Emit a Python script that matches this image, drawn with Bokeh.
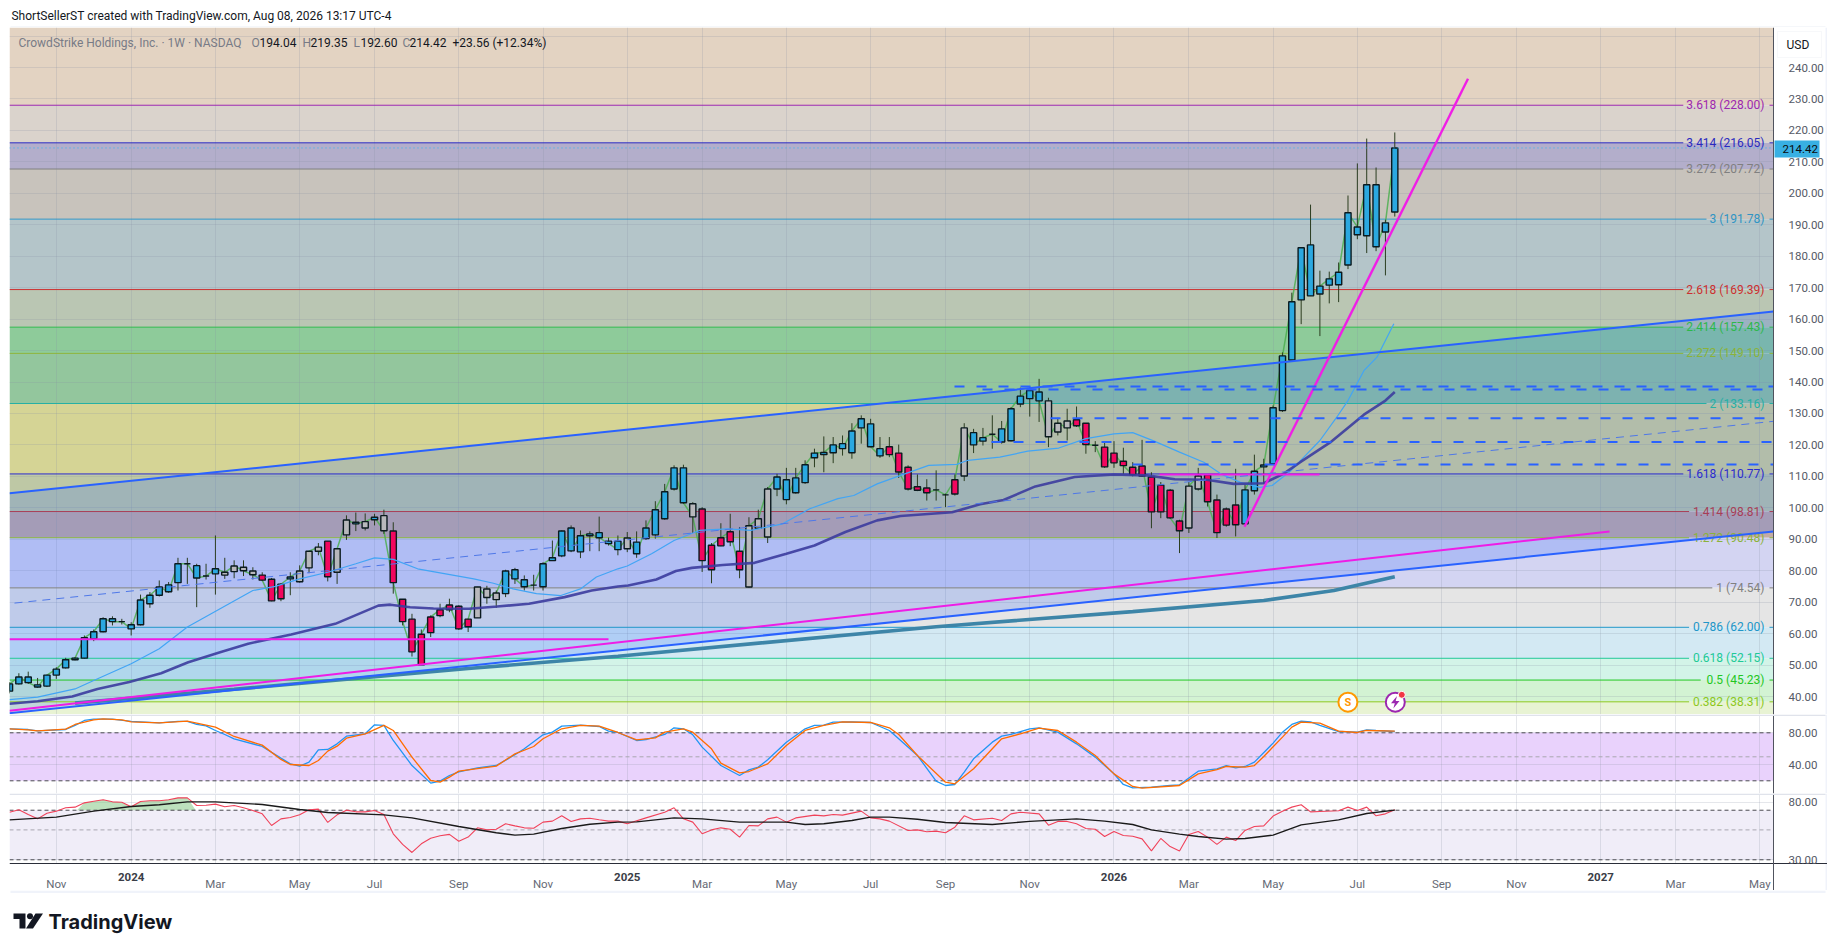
import math
import numpy as np
from bokeh.plotting import figure
from bokeh.layouts import column
from bokeh.models import Range1d, FixedTicker, PrintfTickFormatter, Label, BoxAnnotation, ColumnDataSource
from bokeh.core.properties import value
from bokeh.embed import file_html
from bokeh.resources import INLINE

# ---------- weekly candles, k = 0 ... 148 (last bar = week of Aug 3 2026) ----------
opens = [41.7,44.0,46.2,43.7,43.3,46.8,49.1,51.7,52.2,58.4,60.6,64.7,63.8,62.8,62.8,69.5,72.2,75.5,76.2,82.2,
         81.6,78.3,79.0,78.6,79.7,81.1,79.9,78.6,77.3,71.1,77.4,76.5,80.9,86.2,89.4,79.5,91.4,95.4,93.6,96.2,
         97.5,92.6,70.9,64.6,50.1,60.3,65.7,67.6,68.7,62.2,65.0,74.2,70.8,72.7,80.3,77.1,75.4,74.9,83.2,84.7,
         93.6,86.0,91.1,92.1,89.4,89.4,87.0,89.1,90.2,91.4,96.5,106.0,112.7,101.3,99.6,80.3,87.9,89.2,86.2,74.8,
         93.5,90.7,106.0,108.9,104.8,108.0,115.9,116.9,117.5,120.4,117.5,125.4,126.7,118.8,116.9,117.4,112.9,105.6,106.3,105.7,
         104.1,104.4,110.1,123.9,121.2,123.4,125.1,121.3,133.0,134.7,136.8,134.0,124.1,127.6,126.1,126.9,119.9,119.3,114.3,114.8,
         112.9,110.1,109.8,98.7,105.6,95.8,93.6,106.0,110.5,102.5,94.5,100.9,94.9,105.4,113.0,114.0,130.9,147.0,166.1,183.6,
         168.0,170.8,170.9,177.2,186.8,186.5,202.7,187.7,194.04]
highs = [44.6,47.4,47.9,45.9,46.9,49.3,52.3,52.5,59.4,61.3,65.2,65.5,64.7,63.6,72.4,73.2,76.9,76.4,84.1,84.1,
         82.2,82.2,91.2,84.1,83.3,83.3,81.1,79.5,77.7,76.0,79.5,81.7,86.2,88.8,89.4,87.0,97.6,98.5,98.2,98.1,
         99.4,95.4,70.9,66.3,61.3,65.8,69.5,71.1,69.0,64.6,74.8,75.2,73.7,80.3,80.9,78.5,78.7,82.7,89.6,92.8,
         94.4,92.8,92.5,97.2,90.5,91.2,92.3,92.5,96.0,102.1,107.6,113.5,113.7,101.8,100.2,88.8,95.1,98.1,93.9,97.0,
         99.4,106.6,110.8,112.7,112.7,115.1,118.8,122.7,122.5,123.0,126.9,129.4,128.3,122.5,122.5,120.1,113.5,110.6,109.1,111.9,
         104.5,110.6,126.9,125.1,125.4,129.4,127.6,132.0,138.2,138.6,141.0,135.0,128.6,131.5,132.2,126.9,121.2,120.9,121.2,119.1,
         114.5,121.6,111.3,108.2,106.0,96.2,108.2,112.7,110.5,104.2,100.1,112.4,107.4,116.9,115.6,132.5,149.4,168.4,182.7,196.4,
         175.4,175.1,178.0,199.3,209.5,217.4,208.2,191.6,219.35]
lows = [41.0,43.8,44.0,42.8,43.0,45.6,48.9,51.5,52.0,57.6,60.4,62.6,62.9,59.4,62.6,68.2,71.8,73.0,73.7,75.8,
        68.4,77.2,72.4,77.4,77.6,78.3,77.2,76.7,70.3,70.3,72.2,76.2,79.2,84.9,76.6,75.8,89.8,92.6,92.8,94.4,
        91.7,72.7,62.6,52.7,50.1,58.9,65.2,66.8,61.2,60.5,65.0,69.5,68.2,71.6,75.8,73.7,73.7,73.7,83.2,84.3,
        85.9,84.0,86.2,86.2,88.0,84.9,85.9,84.1,89.8,90.2,96.2,105.5,101.3,92.0,79.6,76.0,87.8,87.8,77.6,74.6,
        93.3,88.8,103.7,101.1,104.5,107.6,112.9,111.3,114.2,116.6,115.6,120.4,119.3,115.9,116.1,109.5,105.5,105.3,102.3,102.3,
        100.2,103.9,108.5,117.4,119.8,118.8,120.4,121.1,132.0,129.0,127.3,119.3,123.0,121.4,125.7,117.2,117.7,112.7,112.7,110.8,
        110.0,109.8,93.5,96.7,96.5,85.6,92.0,105.5,100.4,90.4,94.0,90.9,94.7,104.2,107.6,113.8,130.5,147.0,158.4,167.4,
        154.6,165.0,165.4,175.9,185.4,181.0,181.6,173.9,192.60]
closes = [44.0,46.2,44.4,43.0,46.8,48.7,51.7,52.2,58.7,60.6,64.7,63.8,63.8,61.5,70.7,72.2,74.8,73.3,82.2,82.2,
          77.7,78.3,80.6,79.5,81.5,80.0,78.7,77.0,70.4,75.7,78.0,79.9,86.2,87.5,78.1,87.0,96.1,94.9,95.6,97.0,
          92.7,76.2,63.8,54.2,59.8,65.3,67.6,69.1,61.5,64.6,74.8,71.5,72.9,79.9,77.4,74.9,75.4,82.2,84.1,92.6,
          86.3,91.1,91.7,90.5,88.6,86.7,90.4,85.4,93.6,99.4,105.1,112.7,101.6,97.1,83.2,88.1,90.5,92.4,80.3,94.3,
          96.5,106.0,109.8,102.6,109.5,113.7,117.4,117.6,120.0,118.8,124.4,128.3,119.4,116.5,119.4,111.4,106.0,106.7,104.8,105.7,
          104.1,108.9,125.4,120.0,122.3,123.4,120.9,131.5,135.5,137.3,134.0,122.6,126.9,125.4,128.0,120.1,119.9,113.0,117.4,113.4,
          110.5,113.3,98.7,107.2,96.8,92.7,106.9,110.1,101.9,92.1,99.6,94.6,105.7,111.6,113.6,131.8,148.3,165.5,182.7,167.4,
          170.5,172.8,174.9,193.8,189.3,202.7,183.0,190.6,214.42]
kinds = ("bbbbbbbbbbbbbbbbbbb g bbb gggg rrr b ggg r gg b g b g rrrrrrrrr ggg bbbbbbbbbbbbb g bbbbbb g "
         "rrrrr ggg bbbbbbbbbbbb rrrrrrrr g bbbbbbbb ggg rrrrrrrrrrrr gg rrrr bbbbbbbbbbbbbbbbb").replace(" ", "")
assert len(opens) == len(highs) == len(lows) == len(closes) == len(kinds) == 149, (len(opens), len(highs), len(lows), len(closes), len(kinds))

# ---------- moving averages ----------
fast_k = [0,3,7,9,13,16,19,22.5,26,28.4,31,34,37,39,41,43.6,46.6,49.6,51.7,53.8,56.3,58.9,61,62.7,65,66,68.6,71,73.7,76.7,79.2,82.6,85.5,88.5,90.2,92.7,95.2,98.2,101.2,102.4,105.8,108.8,112.1,115,118,120,122.3,125,127.6,129.4,131.5,133.6,134.9,136.9,140,141.8,143,144.7,146.1,147.9]
fast_v = [39.0,39.8,42.4,45.1,50.4,55.2,62.1,67.9,73.7,75.0,77.4,79.5,82.2,84.1,83.6,80.6,79.0,77.4,76.0,74.2,72.7,72.1,74.2,78.0,80.6,81.5,85.4,89.6,92.8,93.3,92.8,94.9,99.7,102.9,103.9,107.6,110.3,113.5,113.8,115.1,116.1,118.0,119.0,122.0,123.5,123.9,121.2,117.7,114.5,110.8,108.1,106.5,107.1,111.8,121.4,128.8,134.1,143.6,147.9,158.5]
mid_k = [0,3,6.7,9.4,12.8,16.2,19.1,22.5,25.5,30.1,34.8,39.4,40.7,42.8,45.3,49.1,52.1,55.5,59.3,62.2,65,66.1,69.1,71.2,72.9,76.2,79.6,83,86,89.3,92.7,95.2,100.7,103.7,106.2,109.6,113.8,118,121.5,124.5,127.9,130.8,134,136.1,137.9,141.1,144.7,147,148]
mid_v = [37.7,38.5,40.0,42.4,44.6,47.4,50.9,54.1,56.8,59.7,63.1,68.9,69.2,68.4,68.0,67.9,68.6,69.5,71.6,73.7,75.0,75.3,77.2,79.9,80.9,81.8,82.5,85.4,88.0,92.3,96.0,97.4,98.6,101.1,102.5,106.8,109.8,110.6,110.3,109.1,108.9,107.6,107.8,110.8,114.5,120.8,129.6,134.1,136.8]
slow_k = [7,24,49,65,99,120,134,141.5,148]
slow_v = [37.9,42.3,48.9,52.8,62.2,67.0,70.5,73.7,78.1]

# ---------- Fibonacci levels ----------
fib_ratio = ["3.618","3.414","3.272","3","2.618","2.414","2.272","2","1.618","1.414","1.272","1","0.786","0.618","0.5","0.382"]
fib_price = [228.00,216.05,207.72,191.78,169.39,157.43,149.10,133.16,110.77,98.81,90.48,74.54,62.00,52.15,45.23,38.31]
fib_color = ["#9c27b0","#2a2ac0","#808080","#2f94c4","#cc2f2f","#2db84a","#8bb33a","#26b0a5","#2b2bcf","#a83e56","#8bb33a","#808080","#2196c8","#20c997","#22c722","#8cc81e"]
band_color = ["#e3d3c2","#dad3cc","#b3aecb","#c8c3bc","#b4c5c9","#bac6b3","#8ecb9a","#93c69d","#d5d495","#bec8a5","#c3aba5","#d3d4f2","#e5e5e5","#d3e9f3","#d3f4e8","#d3f3d3","#e8f3d3"]

# ---------- trend lines (prices at the two ends) ----------
channel_up = [104.6, 162.4]
channel_lo = [34.7, 92.5]
rise_line = [35.5, 92.5]
flat_a = 58.2
flat_b = 110.6
steep_line = [94.0, 236.4]
dash_levels = [138.6, 137.6, 128.5, 120.9, 113.8]
thin_dash = [69.7, 127.5]

# ---------- stochastic ----------
k_x = [0,2,3,6,7,8,9,11,13,16,18,19,20,21,22,23,24,27,29,30,31,32,33,34,35,36,38,39,40,41,43,45,46,47,48,50,52,54,55,57,58,59,61,63,64,65,67,68,70,71,72,73,74,76,78,79,80,81,83,85,86,87,88,90,92,94,95,97,99,100,101,102,103,105,106,107,109,110,112,114,116,118,119,120,122,124,125,127,129,130,131,132,133,135,136,137,138,139,140,142,144,145,146,148]
k_v = [85.0,84.1,82.5,84.1,89.2,95.4,97.1,97.1,94.2,92.5,94.2,94.2,90.4,88.7,82.9,77.9,72.5,62.9,48.3,41.2,38.3,43.3,58.7,59.2,66.2,75.8,78.7,90.0,89.2,70.4,39.1,17.1,19.6,26.6,31.2,36.2,39.1,52.5,60.0,77.5,80.8,88.3,89.6,87.9,82.1,80.4,70.4,71.6,77.9,86.2,85.0,77.5,62.1,39.1,26.6,33.7,37.1,46.2,68.3,85.0,89.2,89.6,93.3,93.7,92.9,82.9,72.5,51.6,19.6,14.1,15.4,30.8,47.5,68.3,75.8,77.9,85.0,86.2,80.8,66.2,49.6,28.7,15.4,11.2,12.1,14.1,15.0,32.0,35.0,39.1,36.2,37.9,43.3,67.1,80.8,90.4,94.6,93.7,89.2,81.6,80.8,83.7,82.9,81.6]
d_x = [0,2,3,6,7,9,10,12,13,16,19,20,22,24,27,29,30,32,33,34,35,36,38,40,41,43,45,46,47,48,52,54,56,57,59,61,63,65,67,69,70,72,73,75,76,78,79,81,83,85,87,89,92,94,95,97,100,101,103,105,106,108,110,112,114,116,118,120,121,125,127,129,130,132,133,134,136,137,138,140,142,144,145,148]
d_v = [85.0,83.7,82.5,84.6,90.4,96.2,97.5,96.2,93.7,92.5,94.6,92.1,87.1,75.4,64.6,46.7,40.4,39.1,45.4,57.1,63.3,73.3,78.7,89.2,82.9,49.6,20.4,18.3,24.6,32.1,38.3,53.7,62.9,72.5,85.0,89.2,88.3,80.4,71.2,73.7,80.8,85.0,80.8,60.0,42.0,30.0,31.6,41.2,64.2,82.9,89.2,93.7,92.9,86.2,77.9,51.6,18.3,16.2,35.0,60.0,72.5,78.7,85.8,82.9,68.3,51.6,28.7,12.9,10.8,14.1,28.7,34.1,37.9,37.1,39.1,50.4,74.6,87.1,93.3,92.1,82.0,80.4,82.9,82.0]
stoch_ticks = [40, 80]

# ---------- RSI and its average ----------
rsi_x = list(range(0, 66)) + [66,68,70,71,72,73,74,75,76,77,78,79,80,81,82,83,84,86,87,88,89,91,92,93,94,96,97,98,99,100,101,102,103,105,106,107,108,110,111,112,113,114,115,116,117,118,119,120,121,122,123,124,125,126,127,128,129,130,131,132,133,134,135,136,137,138,139,140,142,143,144,145,146,147,148]
rsi_v = [67.7,70.5,65.0,60.4,66.5,68.9,73.0,73.8,79.4,81.7,83.7,80.8,80.3,74.2,81.2,82.2,82.2,83.7,86.5,86.5,75.9,76.3,77.7,74.2,75.9,73.0,69.7,65.8,53.9,60.4,61.8,64.7,70.5,71.3,56.8,64.7,70.1,68.1,68.1,69.7,65.0,46.8,39.0,34.0,39.4,43.4,45.2,46.3,41.2,44.2,51.8,50.0,50.6,55.5,53.6,51.8,51.5,57.1,58.1,63.6,57.8,60.4,61.1,59.4,58.1,58.1,
         55.5,61.4,67.7,73.0,60.4,57.1,46.8,50.0,51.8,50.6,44.2,53.9,53.6,60.4,62.2,57.1,61.4,64.4,63.6,65.0,64.4,68.9,61.4,60.4,58.1,49.5,50.0,48.4,49.0,47.6,52.4,63.6,59.4,61.1,58.7,65.8,67.7,65.8,54.2,57.8,57.8,55.5,51.2,50.6,44.7,48.7,45.4,44.9,42.9,34.9,43.2,37.6,34.9,46.3,48.7,44.2,39.0,44.2,41.7,49.5,53.0,53.6,63.3,68.9,73.8,76.8,68.1,68.5,69.3,73.8,69.7,73.8,63.6,65.8,70.5]
assert len(rsi_x) == len(rsi_v), (len(rsi_x), len(rsi_v))
rsima_x = [0,5,9,13,16,19,22,27,31,34,40,43,48,52,54,56,59,62,65,67,71,74,78,83,85,87,90,92,94,97,100,105,109,114,117,120,122,125,127,130,132,135,138,142,145,148]
rsima_v = [59.4,62.2,68.9,74.6,76.8,80.8,80.8,77.2,70.9,67.3,64.7,61.4,53.0,47.6,45.7,46.5,51.2,55.1,57.1,57.4,61.4,60.4,57.1,57.1,54.8,55.5,58.7,62.2,62.2,60.0,56.8,54.8,57.8,60.4,58.1,54.8,50.0,46.5,44.7,42.7,43.2,45.7,54.5,59.4,66.2,70.1]
rsi_ticks = [30, 80]

# ---------- time axis ----------
tick_k = [5,13,22,31,39,48,57,66,74,83,92,100,109,118,126,135,144,153,161,170,178,187]
tick_text = ["Nov","2024","Mar","May","Jul","Sep","Nov","2025","Mar","May","Jul","Sep","Nov","2026","Mar","May","Jul","Sep","Nov","2027","Mar","May"]
price_ticks = list(range(40, 260, 10))

last_price = 214.42
FONT = "Roboto"
SIZE = "11.5px"
XMAX = 188.46   # price axis position
XEND = 194.23   # right end of the panel


def X(px):
    return (px - 9) / 9.36

def Y(py):
    return 240 - (py - 67) / 3.145

def S(py):
    return 80 - (py - 732.3) / 0.8

def R(py):
    return math.exp(3.401 + (859.3 - py) / 58.5)


def pane(h, y_range, ticks, y_type="linear"):
    p = figure(width=1819, height=h, x_range=Range1d(0, XEND), y_range=y_range, y_axis_type=y_type,
               y_axis_location="right", toolbar_location=None, output_backend="svg", tools="",
               min_border_left=1, min_border_right=0, min_border_top=0, min_border_bottom=0,
               background_fill_color="white", border_fill_color="white", outline_line_color=None)
    p.xaxis.ticker = FixedTicker(ticks=tick_k)
    p.yaxis.ticker = FixedTicker(ticks=ticks)
    p.yaxis.formatter = PrintfTickFormatter(format="%.2f")
    p.yaxis.fixed_location = XMAX
    p.yaxis.major_tick_line_color = None
    p.yaxis.minor_tick_line_color = None
    p.yaxis.axis_line_color = "#50535e"
    p.yaxis.major_label_standoff = 9
    p.yaxis.major_label_text_font = FONT
    p.yaxis.major_label_text_font_size = SIZE
    p.yaxis.major_label_text_color = "#555a66"
    p.grid.grid_line_color = "#8a90a6"
    p.grid.grid_line_alpha = 0.22
    p.grid.grid_line_width = 1
    p.xaxis.visible = False
    return p


def strip(p, bottom, top):
    # white price-scale strip over the grid
    p.quad(left=XMAX, right=XEND, top=top, bottom=bottom, fill_color="white", line_color=None)
    p.quad(left=X(1825), right=XEND, top=top, bottom=bottom, fill_color="#f0f3fa", line_color=None)


def lbl(p, x, y, text, color="#131722", size=SIZE, align="left", style="normal", font=FONT):
    p.add_layout(Label(x=x, y=y, text=text, text_color=color, text_font=font, text_font_size=size,
                       text_align=align, text_baseline="middle", text_font_style=style))


# ---------- header ----------
head = figure(width=1819, height=19, x_range=Range1d(8, 1827), y_range=Range1d(27, 8), toolbar_location=None,
              output_backend="svg", tools="", min_border=0, outline_line_color=None, x_axis_type=None, y_axis_type=None)
head.grid.visible = False
head.text(x=[10], y=[15], text=["ShortSellerST created with TradingView.com, Aug 08, 2026 13:17 UTC-4"],
          text_font=value(FONT), text_font_size="12px", text_color="#131722", text_baseline="middle")
head.quad(left=[9], right=[1825], top=[26], bottom=[27], fill_color="#eceff5", line_color=None)

# ---------- price pane ----------
p = pane(687, Range1d(Y(714), Y(27)), price_ticks)
p.yaxis.major_label_overrides = {250: ""}
edges = [Y(27)] + fib_price + [Y(714)]
p.quad(left=0, right=XMAX, top=edges[:-1], bottom=edges[1:], fill_color=band_color, line_color=None, level="image")
strip(p, Y(714), Y(27))
p.varea(x=[0, XMAX], y1=channel_lo, y2=channel_up, fill_color="#2962ff", fill_alpha=0.2)

labels = [f"{r} ({v:.2f})" for r, v in zip(fib_ratio, fib_price)]
line_xs, line_ys, line_cs = [], [], []
for t, v, c in zip(labels, fib_price, fib_color):
    line_xs += [[0, X(1764 - 5.8 * len(t))], [X(1769), XMAX]]
    line_ys += [[v, v], [v, v]]
    line_cs += [c, c]
p.multi_line(line_xs, line_ys, line_color=line_cs, line_width=1)
p.text(x=[X(1764)] * len(labels), y=fib_price, text=labels, text_color=fib_color, text_font=value(FONT),
       text_font_size="12px", text_align="right", text_baseline="middle")

ks = list(range(len(closes)))
p.line(ks, closes, line_color="#4caf50", line_width=1.5, line_alpha=0.85)
fills = {"b": "#2ba8e0", "r": "#f2065e", "g": "#b8b8bc"}
src = ColumnDataSource(dict(x=ks, h=highs, l=lows,
                            top=[max(o, c) for o, c in zip(opens, closes)],
                            bot=[min(o, c) for o, c in zip(opens, closes)],
                            col=[fills[k] for k in kinds]))
p.segment("x", "h", "x", "l", source=src, line_color="#2b3d20", line_width=1)
p.vbar(x="x", top="top", bottom="bot", width=0.66, source=src, fill_color="col", line_color="#0b1a1f", line_width=1.4)

p.line(fast_k, fast_v, line_color="#42a5f5", line_width=1.2)
p.line(mid_k, mid_v, line_color="#3c3c9e", line_width=2.6, line_alpha=0.9)
p.line(slow_k, slow_v, line_color="#3d85a8", line_width=3.6)

p.line([0, XMAX], channel_up, line_color="#2962ff", line_width=2)
p.line([0, XMAX], channel_lo, line_color="#2962ff", line_width=2)
p.line([0, X(1609)], rise_line, line_color="#ee1de6", line_width=2)
p.line([0, X(608)], [flat_a, flat_a], line_color="#ee1de6", line_width=2)
p.line([X(1159), X(1319)], [flat_b, flat_b], line_color="#ee1de6", line_width=2)
p.line([X(1244), X(1467.5)], steep_line, line_color="#f01ee6", line_width=2.4)
p.line([X(14), XMAX], thin_dash, line_color="#4f78e8", line_width=1, line_dash="8 6")
for v, sx in zip(dash_levels, [954, 982, 1050, 991, 1132]):
    p.line([X(sx), XMAX], [v, v], line_color="#2962ff", line_width=2, line_dash="10 12")
p.line([0, XMAX], [last_price, last_price], line_color="#29b6f6", line_width=1, line_dash="1 3")

# event icons
p.scatter([X(1347.4)], [Y(701.7)], size=19, marker="circle", fill_color="white", line_color="#ff9800", line_width=2)
p.text([X(1347.4)], [Y(701.7)], text=["S"], text_color="#ff9800", text_font=value(FONT), text_font_size="11px",
       text_font_style="bold", text_align="center", text_baseline="middle")
p.scatter([X(1394.8)], [Y(701.7)], size=19, marker="circle", fill_color="white", line_color="#9c27b0", line_width=2)
bolt_x = [1396.5, 1390.5, 1394.3, 1392.8, 1399, 1395.2]
bolt_y = [695.5, 702.8, 702.8, 708, 700.6, 700.6]
p.patch([X(a) for a in bolt_x], [Y(b) for b in bolt_y], fill_color="#9c27b0", line_color=None)
p.scatter([X(1401.3)], [Y(694.3)], size=7, marker="circle", fill_color="#f23645", line_color="white", line_width=1)

# symbol legend
lbl(p, X(18), Y(42), "CrowdStrike Holdings, Inc. · 1W · NASDAQ", "#787b86", size="12px")
for sx, t, c in [(251, "O", "#787b86"), (259, "194.04", "#131722"), (302, "H", "#787b86"), (310, "219.35", "#131722"),
                 (353, "L", "#787b86"), (360, "192.60", "#131722"), (402, "C", "#787b86"), (409, "214.42", "#131722"),
                 (452, "+23.56 (+12.34%)", "#131722")]:
    lbl(p, X(sx), Y(42), t, c, size="12px")

# scale decorations
p.add_layout(BoxAnnotation(left=X(1777), right=X(1821), top=Y(31), bottom=Y(57), fill_color="white", fill_alpha=1,
                           line_color="#e6e9f0", line_width=1))
lbl(p, X(1786), Y(44), "USD", "#131722", size="12px")
p.add_layout(BoxAnnotation(left=X(1774), right=X(1819), top=Y(140), bottom=Y(157), fill_color="#38b0e3", fill_alpha=1, line_alpha=0))
lbl(p, X(1782), Y(148.5), f"{last_price:.2f}", "#0a0a0a")

# ---------- stochastic pane ----------
s = pane(79, Range1d(S(793), S(714)), stoch_ticks)
s.quad(left=0, right=XMAX, top=80, bottom=20, fill_color="#e9d2fc", line_color=None, level="image")
strip(s, S(793), S(714))
for v, c in [(80, "#4a4a50"), (20, "#4a4a50"), (50, "#a9a7b0")]:
    s.line([0, XMAX], [v, v], line_color=c, line_width=1, line_dash="4 3")
s.line(k_x, k_v, line_color="#2196f3", line_width=1.3)
s.line(d_x, d_v, line_color="#ff6d00", line_width=1.3)
s.add_layout(BoxAnnotation(left=0, right=X(1825), top=S(714), bottom=S(715.5), fill_color="#e0e3eb", fill_alpha=1, line_alpha=0))

# ---------- RSI pane with the time scale under it ----------
r = pane(97, Range1d(R(890), R(793)), rsi_ticks, y_type="log")
r.quad(left=0, right=XMAX, top=70, bottom=30, fill_color="#f0edf8", line_color=None, level="image")
strip(r, R(890), R(793))
r.quad(left=0, right=XMAX, top=R(863), bottom=R(890), fill_color="white", line_color=None)
rx = [a for a in rsi_x if 8 <= a <= 19]
ry = [b for a, b in zip(rsi_x, rsi_v) if 8 <= a <= 19]
r.varea(x=[7.2] + rx + [19.9], y1=[70] * (len(rx) + 2), y2=[70] + ry + [70], fill_color="#7cc47c", fill_alpha=0.5)
for v, c in [(70, "#4a4a50"), (30, "#4a4a50"), (50, "#a9a7b0")]:
    r.line([0, XMAX], [v, v], line_color=c, line_width=1, line_dash="4 3")
r.line(rsi_x, rsi_v, line_color="#f0425a", line_width=1.1)
r.line(rsima_x, rsima_v, line_color="#1a1a1a", line_width=1.4)
r.add_layout(BoxAnnotation(left=0, right=X(1825), top=R(793), bottom=R(794.5), fill_color="#e0e3eb", fill_alpha=1, line_alpha=0))

r.xaxis.visible = True
r.xaxis.fixed_location = R(863)
r.xaxis.major_tick_line_color = None
r.xaxis.minor_tick_line_color = None
r.xaxis.axis_line_color = "#2a2e39"
r.xaxis.major_label_standoff = 7
r.xaxis.major_label_text_font = FONT
r.xaxis.major_label_text_font_size = SIZE
r.xaxis.major_label_text_color = "#666a75"
r.xaxis.major_label_overrides = {k: ("" if t.isdigit() else t) for k, t in zip(tick_k, tick_text)}
for k, t in zip(tick_k, tick_text):
    if t.isdigit():
        lbl(r, k, R(876.5), t, "#3a3d47", align="center", style="bold")

# ---------- footer ----------
foot = figure(width=1819, height=53, x_range=Range1d(8, 1827), y_range=Range1d(943, 890), toolbar_location=None,
              output_backend="svg", tools="", min_border=0, outline_line_color=None, x_axis_type=None, y_axis_type=None)
foot.grid.visible = False
foot.quad(left=[9], right=[1825], top=[890], bottom=[892.5], fill_color="#f0f3fa", line_color=None)
foot.patch([12, 24, 24, 18, 18, 12], [913, 913, 928, 928, 918.5, 918.5], fill_color="#131722", line_color=None)
foot.patch([34, 41.5, 31.5, 24.5], [913, 913, 928, 928], fill_color="#131722", line_color=None)
foot.scatter([28.5], [915.8], size=6, marker="circle", fill_color="#131722", line_color=None)
foot.text(x=[47], y=[921.5], text=["TradingView"], text_font=value("Inter"), text_font_size="20px",
          text_font_style="bold", text_color="#131722", text_baseline="middle")

page = column(head, p, s, r, foot, spacing=0, margin=(8, 0, 0, 8))
open("out.html", "w").write(file_html(page, INLINE))
